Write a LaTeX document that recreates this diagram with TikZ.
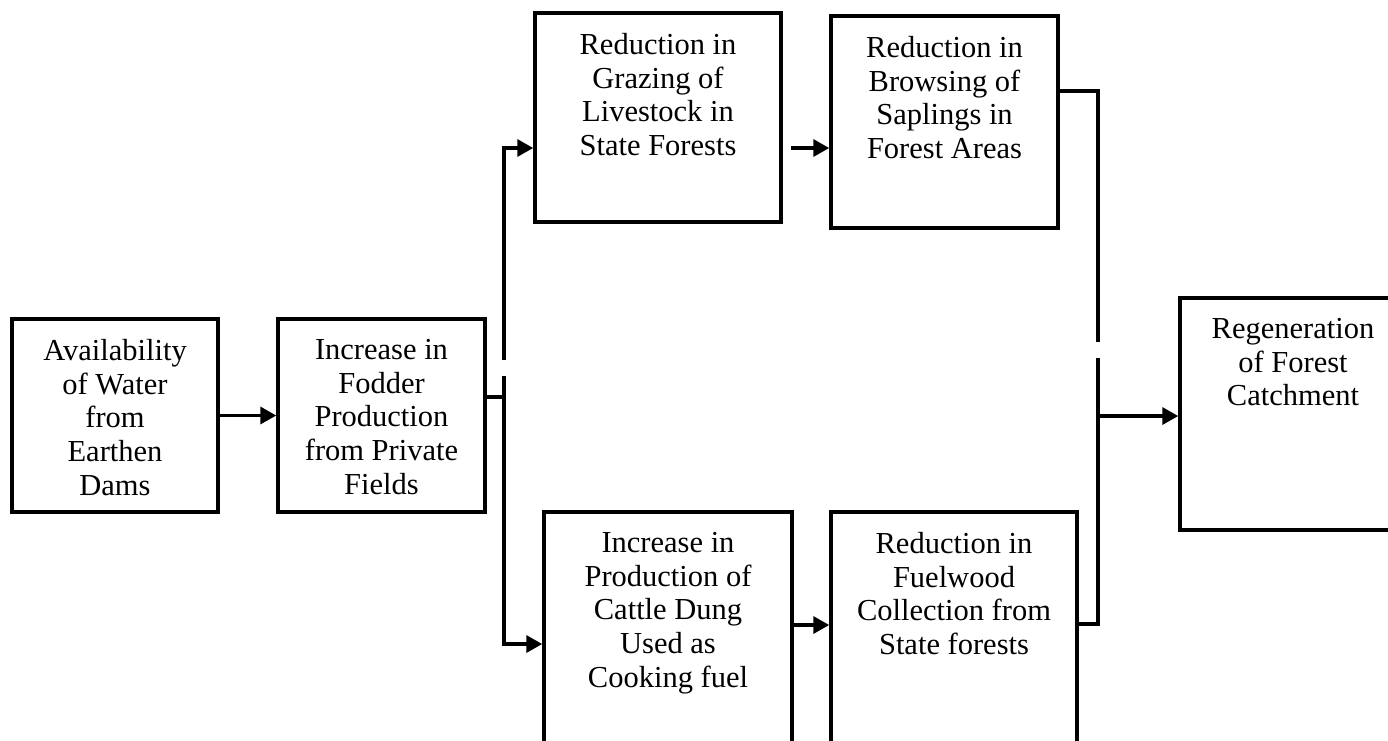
\documentclass[tikz,border=0pt]{standalone}
\usepackage{fontspec}
\setmainfont{Liberation Serif}
\usetikzlibrary{arrows.meta}
\begin{document}
\begin{tikzpicture}[x=1pt,y=-1pt,
  box/.style={draw, line width=3.5pt, rectangle, inner sep=0pt},
  lbl/.style={anchor=north, align=center, inner sep=0pt, yshift=-22pt, font=\fontsize{30.5}{33.6}\selectfont},
  conn/.style={line width=3.5pt},
  arr/.style={conn, -{Triangle[length=16pt,width=17pt]}}]
\useasboundingbox (0,0) rectangle (1388,740);
\fill[white] (0,0) rectangle (1388,740);

\node[box, minimum width=206pt, minimum height=193pt,
  label={[lbl]north:{Availability\\of Water\\from\\Earthen\\Dams}}] (avail) at (115,415.5) {};
\node[box, minimum width=207pt, minimum height=193pt,
  label={[lbl]north:{Increase in\\Fodder\\Production\\from Private\\Fields}}] (fodder) at (381.5,415.5) {};
\node[box, minimum width=246pt, minimum height=209pt,
  label={[lbl]north:{Reduction in\\Grazing of\\Livestock in\\State Forests}}] (grazing) at (658,117.5) {};
\node[box, minimum width=227pt, minimum height=212pt,
  label={[lbl]north:{Reduction in\\Browsing of\\Saplings in\\Forest Areas}}] (browsing) at (944.5,122) {};
\node[box, minimum width=248pt, minimum height=258pt,
  label={[lbl]north:{Increase in\\Production of\\Cattle Dung\\Used as\\Cooking fuel}}] (dung) at (668,641) {};
\node[box, minimum width=246pt, minimum height=258pt,
  label={[lbl]north:{Reduction in\\Fuelwood\\Collection from\\State forests}}] (fuel) at (954,641) {};
\node[box, minimum width=226pt, minimum height=232pt,
  label={[lbl]north:{Regeneration\\of Forest\\Catchment}}] (regen) at (1293,414) {};

\coordinate (jL) at (504,397);
\coordinate (gapLtop) at (504,360);
\coordinate (gapLbot) at (504,376);
\coordinate (jR) at (1098,416);
\coordinate (gapRtop) at (1098,342);
\coordinate (gapRbot) at (1098,358);

\draw[arr] (avail.east) -- (fodder.west);
\draw[conn] (fodder.east |- jL) -- (jL) -- (gapLbot);
\draw[arr] (gapLtop) |- ([yshift=-30.5pt]grazing.west);
\draw[arr] (jL) |- ([yshift=-3pt]dung.west);
\draw[arr] ([xshift=8pt,yshift=-30.5pt]grazing.east) -- ([yshift=-26pt]browsing.west);
\draw[arr] ([yshift=16pt]dung.east) -- ([yshift=16pt]fuel.west);
\draw[conn] ([yshift=31pt]browsing.east) -| (gapRtop);
\draw[conn] (gapRbot) |- ([yshift=17pt]fuel.east);
\draw[arr] (jR) -- ([yshift=-2pt]regen.west);
\end{tikzpicture}
\end{document}
